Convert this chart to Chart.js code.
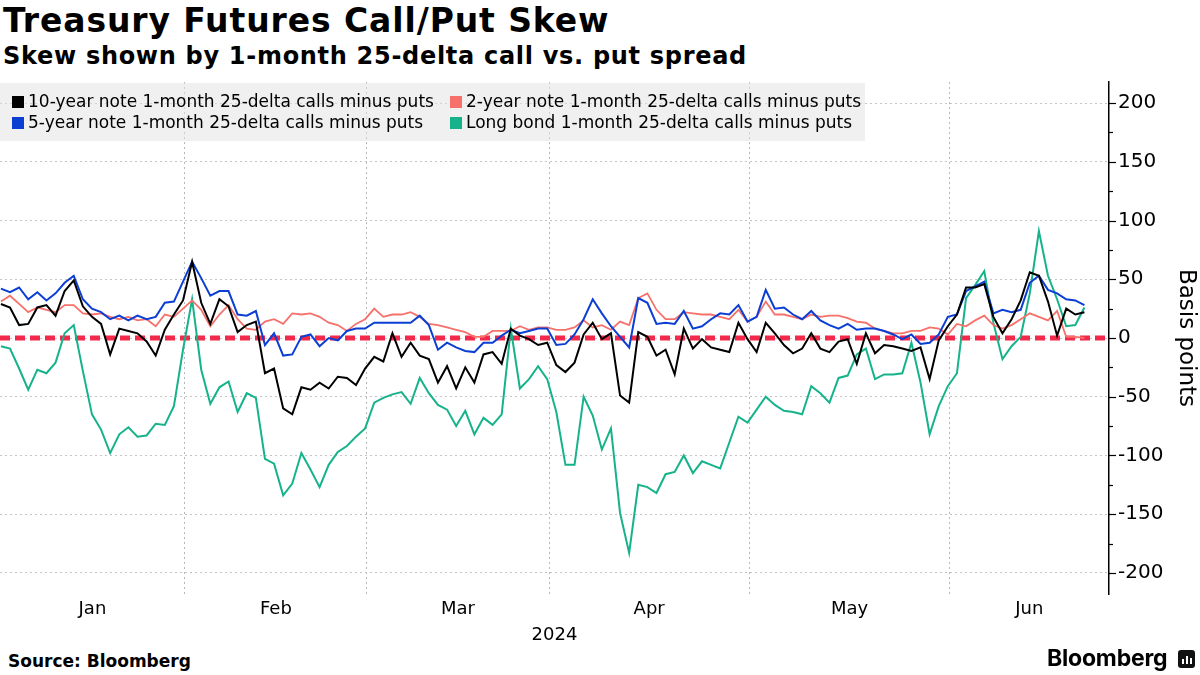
<!DOCTYPE html>
<html>
<head>
<meta charset="utf-8">
<script src="https://cdn.jsdelivr.net/npm/chart.js@4.4.1/dist/chart.umd.min.js"></script>
<style>
  body { margin: 0; background: #fff; width: 1200px; height: 675px; overflow: hidden; position: relative;
         font-family: "DejaVu Sans", sans-serif; color: #000; }
  #title { position: absolute; left: 3px; top: 1px; font-size: 33px; font-weight: bold; letter-spacing: 0.9px; white-space: nowrap; }
  #subtitle { position: absolute; left: 3px; top: 42px; font-size: 24px; font-weight: bold; letter-spacing: 0.7px; white-space: nowrap; }
  #wrap { position: absolute; left: 0; top: 0; width: 1200px; height: 646px; }
  #legend { position: absolute; left: 0; top: 83px; width: 865px; height: 58px; background: rgba(226,226,226,0.5);
            font-size: 17px; }
  .item { position: absolute; white-space: nowrap; line-height: 20px; }
  .sw { display: inline-block; width: 12px; height: 12px; margin-right: 4px; vertical-align: -1px; }
  #source { position: absolute; left: 8px; top: 651px; font-size: 17px; font-weight: bold; }
  #brand { position: absolute; left: 1047px; top: 644px; font-family: Inter, Roboto, sans-serif; font-weight: 700;
           font-size: 23px; letter-spacing: -0.2px; }
  #icon { position: absolute; left: 1178px; top: 650px; width: 17px; height: 18px; background: #111; border-radius: 3px; }
  #icon i { position: absolute; bottom: 4px; width: 2px; background: #fff; }
</style>
</head>
<body>
<div id="title">Treasury Futures Call/Put Skew</div>
<div id="subtitle">Skew shown by 1-month 25-delta call vs. put spread</div>
<div id="wrap"><canvas id="chart"></canvas></div>
<div id="legend"></div>
<div id="source">Source: Bloomberg</div>
<div id="brand">Bloomberg</div>
<div id="icon"><i style="left:4px;height:5px"></i><i style="left:8px;height:8px"></i><i style="left:12px;height:6px"></i></div>

<script>
// daily trading sessions, Jan 2 2024 .. Jun 24 2024 (index 0 .. 119)
const months = ["Jan", "Feb", "Mar", "Apr", "May", "Jun"];
const sessionsPerMonth = [21, 20, 20, 22, 22, 15];

const tenYear = [
  29, 26, 11, 12, 26, 28, 19, 40, 49, 27, 18, 12, -14, 8, 6, 4, -3, -15, 7, 20, 32,
  65, 30, 12, 33, 27, 5, 11, 14, -30, -26, -60, -65, -42, -44, -38, -43, -33, -34, -40, -26,
  -16, -20, 4, -16, -4, -15, -18, -38, -24, -43, -25, -38, -14, -12, -22, 8, 2, -1, -6, -4,
  -23, -29, -21, 3, 13, -1, 4, -49, -55, 5, 1, -15, -10, -31, 8, -9, -1, -8, -10, -12, 13, -1,
  -12, 13, 4, -6, -13, -9, 4, -9, -12, -3, -1, -22, 4, -13, -6, -7, -9, -11, -8, -35, -2, 10,
  20, 43, 43, 46, 18, 4, 16, 32, 56, 53, 31, 2, 25, 20, 22
];
const twoYear = [
  31, 36, 29, 22, 26, 24, 22, 28, 28, 21, 20, 21, 18, 16, 18, 15, 16, 10, 20, 18, 25,
  32, 24, 10, 20, 28, 16, 8, 7, 14, 16, 12, 21, 20, 21, 18, 13, 11, 6, 12, 16,
  25, 18, 20, 20, 22, 18, 12, 11, 9, 7, 5, 1, 1, 6, 6, 6, 10, 7, 9, 9,
  7, 7, 9, 15, 9, 11, 7, 14, 11, 34, 38, 24, 16, 16, 22, 21, 20, 20, 18, 16, 24, 14,
  18, 31, 20, 20, 18, 16, 20, 18, 19, 19, 17, 14, 13, 8, 6, 4, 4, 6, 6, 9, 8, 3,
  12, 10, 15, 19, 11, 8, 11, 16, 21, 18, 15, 23, 1, 1, 0
];
const fiveYear = [
  42, 39, 43, 33, 39, 32, 38, 47, 53, 33, 25, 22, 16, 19, 15, 19, 16, 18, 30, 31, 48,
  65, 51, 36, 40, 40, 20, 19, 23, -6, 4, -15, -14, 1, 3, -7, 0, -2, 6, 8, 8,
  13, 13, 13, 13, 13, 19, 11, -10, -4, -8, -11, -12, -4, -4, 2, 7, 4, 6, 8, 8,
  -6, -5, 3, 16, 33, 21, 10, 1, -8, 34, 30, 12, 13, 12, 23, 8, 10, 16, 21, 20, 28, 14,
  18, 41, 25, 26, 20, 16, 23, 15, 11, 8, 12, 7, 8, 8, 6, 3, -1, 3, -5, -4, 3, 18,
  20, 40, 44, 48, 21, 24, 22, 24, 47, 53, 41, 38, 33, 32, 28
];
const longBond = [
  -7, -9, -26, -44, -27, -30, -21, 4, 11, -28, -65, -78, -98, -82, -76, -84, -83, -73, -74, -58, -10,
  33, -27, -56, -42, -37, -63, -47, -51, -103, -107, -134, -124, -98, -112, -127, -108, -97, -92, -84, -77,
  -55, -51, -48, -46, -56, -34, -47, -57, -61, -75, -62, -82, -68, -74, -65, 8, -43, -35, -24, -35,
  -63, -108, -108, -50, -66, -95, -77, -149, -183, -125, -127, -132, -116, -114, -100, -115, -105, -108, -111, -89, -67, -72,
  -61, -50, -57, -62, -63, -65, -41, -47, -55, -34, -32, -14, -9, -35, -31, -31, -30, -4, -38, -82, -58, -41,
  -30, 34, 45, 57, 13, -18, -7, 1, 38, 91, 53, 33, 10, 11, 26
];

const seriesNames = [
  "10-year note 1-month 25-delta calls minus puts",
  "2-year note 1-month 25-delta calls minus puts",
  "5-year note 1-month 25-delta calls minus puts",
  "Long bond 1-month 25-delta calls minus puts"
];
const seriesColors = ["#000000", "#f7716b", "#0b3fd3", "#16b38b"];
const zeroLevel = 0;

const xMin = -0.1, xMax = 121.7;

// month boundary gridlines and centred month labels
const xTicks = [];
let start = xMin, cum = 0;
sessionsPerMonth.forEach((n, k) => {
  cum += n;
  const end = k < sessionsPerMonth.length - 1 ? cum - 0.8 : xMax;
  xTicks.push({ value: (start + end) / 2, label: months[k] });
  if (k < sessionsPerMonth.length - 1) xTicks.push({ value: end, label: "", boundary: true });
  start = end;
});

const toPoints = arr => arr.map((v, i) => ({ x: i, y: v }));

// legend
const legend = document.getElementById("legend");
const slots = [[12, 11], [450, 11], [12, 32], [450, 32]]; // row-major: 10y, 2y / 5y, long
[0, 1, 2, 3].forEach((s, k) => {
  const d = document.createElement("div");
  d.className = "item";
  d.style.left = slots[k][0] + "px";
  d.style.top = (slots[k][1] - 3) + "px";
  d.innerHTML = '<span class="sw" style="background:' + seriesColors[s] + '"></span>' + seriesNames[s];
  legend.appendChild(d);
});

const zeroLine = {
  id: "zeroLine",
  beforeDatasetsDraw(chart) {
    const { ctx, chartArea } = chart;
    const py = chart.scales.y.getPixelForValue(zeroLevel);
    ctx.save();
    ctx.strokeStyle = "#f2294b";
    ctx.lineWidth = 5;
    ctx.setLineDash([10, 5]);
    ctx.beginPath();
    ctx.moveTo(chartArea.left, py);
    ctx.lineTo(chartArea.right, py);
    ctx.stroke();
    ctx.restore();
  }
};

const axisTicks = {
  id: "axisTicks",
  afterDraw(chart) {
    const y = chart.scales.y, ctx = chart.ctx, x0 = chart.chartArea.right;
    ctx.save();
    ctx.strokeStyle = "#000";
    ctx.lineWidth = 1.2;
    y.ticks.forEach(t => {
      const py = Math.round(y.getPixelForValue(t.value)) + 0.5;
      const len = t.value % 50 === 0 ? 7 : 4;
      ctx.beginPath();
      ctx.moveTo(x0, py);
      ctx.lineTo(x0 + len, py);
      ctx.stroke();
    });
    ctx.restore();
  }
};

const order = [0, 2, 1, 3];
const allSeries = [tenYear, twoYear, fiveYear, longBond];

new Chart(document.getElementById("chart"), {
  type: "line",
  data: {
    datasets: order.map(s => ({
      label: seriesNames[s],
      data: toPoints(allSeries[s]),
      borderColor: seriesColors[s],
      backgroundColor: seriesColors[s],
      borderWidth: s === 1 ? 1.8 : 2,
      pointRadius: 0,
      tension: 0,
      fill: false
    }))
  },
  options: {
    responsive: true,
    maintainAspectRatio: false,
    animation: false,
    layout: { padding: { top: 82, left: 0, right: 0, bottom: 0 } },
    plugins: { legend: { display: false }, tooltip: { enabled: false } },
    scales: {
      x: {
        type: "linear",
        min: xMin,
        max: xMax,
        border: { display: false, dash: [2, 3] },
        grid: {
          drawTicks: false,
          lineWidth: 1,
          color: c => (c.tick && c.tick.boundary ? "#b8b8b8" : "rgba(0,0,0,0)")
        },
        afterBuildTicks: s => { s.ticks = xTicks.map(t => Object.assign({}, t)); },
        afterFit: s => { s.height = 52; },
        ticks: {
          autoSkip: false,
          maxRotation: 0,
          padding: 5,
          color: "#000",
          font: { family: "DejaVu Sans", size: 18 },
          callback: (v, i, ticks) => ticks[i].label
        },
        title: {
          display: true,
          text: "2024",
          color: "#000",
          font: { family: "DejaVu Sans", size: 18 },
          padding: { top: 1, bottom: 0 }
        }
      },
      y: {
        position: "right",
        min: -218,
        max: 218,
        border: { display: true, color: "#000", width: 1.5, dash: [2, 3] },
        grid: {
          drawTicks: false,
          lineWidth: 1,
          color: c => (c.tick && c.tick.value % 50 === 0 ? "#c4c4c4" : "rgba(0,0,0,0)")
        },
        afterBuildTicks: s => { s.ticks = s.ticks.filter(t => t.value % 25 === 0); },
        afterFit: s => { s.width = 91; },
        ticks: {
          stepSize: 25,
          includeBounds: false,
          autoSkip: false,
          padding: 9,
          color: "#000",
          font: { family: "DejaVu Sans", size: 20 },
          callback: v => (v % 50 === 0 ? String(v) : "")
        },
        title: {
          display: true,
          text: "Basis points",
          color: "#000",
          font: { family: "DejaVu Sans", size: 23 },
          padding: 0
        }
      }
    }
  },
  plugins: [zeroLine, axisTicks]
});
</script>
</body>
</html>
